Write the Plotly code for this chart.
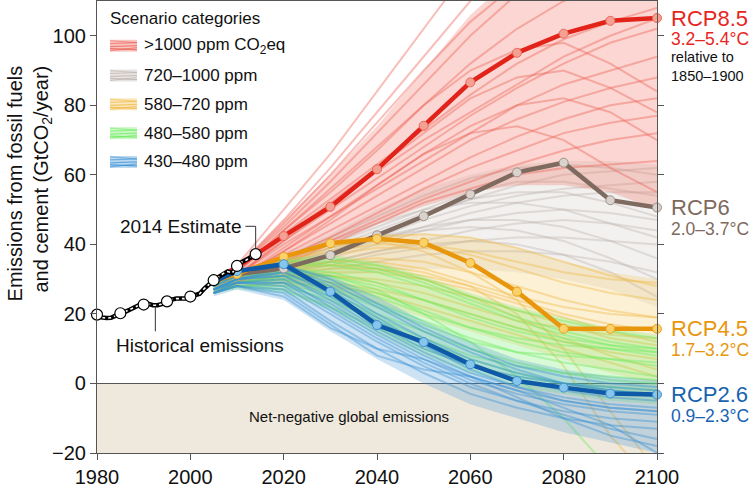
import plotly.graph_objects as go

# ---------------- data ----------------
years_scen = [2005, 2010, 2020, 2030, 2040, 2050, 2060, 2070, 2080, 2090, 2100]

rcp85 = [29.5, 33.5, 42.4, 50.8, 61.6, 74.1, 86.6, 95.1, 100.6, 104.3, 105.1]
rcp6 = [29.5, 31.5, 33.1, 36.9, 42.6, 48.1, 54.4, 60.7, 63.5, 52.7, 50.6]
rcp45 = [29.5, 31.5, 36.4, 40.3, 41.6, 40.5, 34.7, 26.4, 15.7, 15.7, 15.7]
rcp26 = [29.3, 32.3, 34.3, 26.4, 16.8, 11.9, 5.5, 0.7, -1.2, -2.9, -3.2]

hist_years = list(range(1980, 2015))
hist_vals = [19.8, 19.0, 18.8, 18.9, 19.5, 20.2, 20.6, 21.2, 22.0, 22.5,
             22.7, 22.9, 22.5, 22.5, 22.9, 23.6, 24.1, 24.4, 24.3, 24.4,
             25.0, 25.4, 25.8, 27.3, 28.6, 29.7, 30.6, 31.6, 32.2, 31.8,
             33.8, 34.9, 35.5, 36.3, 37.2]
hist_mark_years = [1980, 1985, 1990, 1995, 2000, 2005, 2010, 2014]
hist_mark_vals = [19.8, 20.2, 22.7, 23.6, 25.0, 29.7, 33.8, 37.2]

red_lines = [
    [29, 33, 47, 62, 78, 94, 110, 124, 135, 142, 148],
    [29, 33, 45, 58, 72, 86, 100, 112, 121, 128, 133],
    [28, 32, 44, 55, 67, 80, 92, 102, 110, 116, 120],
    [28, 32, 43, 53, 63, 73, 83, 92, 99, 104, 108],
    [28, 31, 41, 50, 59, 68, 77, 85, 92, 98, 102],
    [27, 31, 40, 48, 56, 64, 72, 80, 86, 90, 94],
    [27, 30, 38, 46, 54, 62, 70, 76, 81, 85, 88],
    [27, 30, 37, 44, 51, 58, 65, 71, 76, 80, 82],
    [26, 29, 36, 42, 49, 56, 62, 67, 72, 75, 77],
    [26, 29, 35, 41, 47, 53, 58, 63, 67, 70, 72],
    [27, 30, 39, 48, 57, 66, 74, 80, 82, 78, 70],
    [28, 31, 42, 52, 62, 72, 82, 88, 90, 85, 78],
    [26, 29, 34, 40, 46, 52, 56, 60, 62, 63, 64],
    [28, 32, 44, 56, 68, 80, 90, 96, 98, 92, 84],
    [27, 30, 38, 47, 57, 66, 72, 74, 70, 62, 55],
    [29, 33, 46, 60, 75, 90, 104, 115, 120, 118, 112],
    [30, 34, 50, 66, 84, 102, 120, 135, 145, 150, 155],
    [27, 31, 41, 51, 61, 70, 78, 86, 94, 100, 105],
]
grey_lines = [
    [28, 31, 34, 38, 43, 48, 53, 57, 60, 61, 62],
    [28, 31, 35, 40, 45, 50, 55, 58, 58, 56, 54],
    [27, 30, 33, 37, 41, 45, 49, 52, 54, 55, 55],
    [27, 30, 33, 36, 40, 44, 47, 49, 50, 49, 47],
    [27, 30, 32, 35, 38, 41, 44, 46, 47, 46, 44],
    [27, 29, 32, 34, 37, 39, 41, 42, 42, 41, 40],
    [28, 31, 36, 41, 46, 50, 52, 52, 50, 46, 42],
    [27, 30, 34, 38, 42, 45, 47, 47, 45, 41, 36],
    [26, 29, 31, 33, 35, 37, 38, 38, 37, 35, 32],
    [27, 30, 34, 39, 44, 49, 53, 55, 55, 52, 48],
    [28, 31, 35, 39, 42, 44, 45, 44, 41, 36, 30],
    [27, 30, 33, 37, 42, 47, 51, 54, 56, 57, 58],
    [26, 29, 32, 35, 38, 40, 41, 40, 37, 32, 25],
    [28, 31, 36, 42, 48, 54, 59, 62, 63, 62, 60],
]
yellow_lines = [
    [28, 31, 35, 39, 42, 43, 42, 39, 35, 31, 28],
    [28, 31, 34, 37, 39, 39, 37, 33, 29, 26, 24],
    [27, 30, 33, 35, 36, 35, 32, 28, 24, 21, 19],
    [27, 30, 32, 33, 33, 31, 28, 24, 20, 17, 15],
    [27, 29, 31, 31, 30, 28, 25, 21, 17, 13, 11],
    [26, 29, 30, 29, 27, 24, 20, 16, 12, 9, 7],
    [27, 30, 33, 34, 33, 30, 25, 19, 13, 8, 4],
    [28, 31, 36, 40, 41, 38, 32, 24, 10, -8, -25],
    [27, 30, 33, 35, 35, 33, 29, 25, 22, 20, 19],
    [26, 28, 29, 28, 26, 22, 18, 14, 10, 6, 2],
    [28, 31, 35, 38, 40, 40, 38, 35, 32, 30, 29],
    [27, 30, 32, 34, 34, 32, 28, 20, 5, -15, -30],
    [27, 29, 31, 32, 32, 30, 27, 23, 19, 15, 12],
    [26, 29, 31, 31, 29, 26, 22, 18, 16, 14, 13],
]
green_lines = [
    [28, 31, 34, 34, 32, 28, 23, 18, 14, 11, 9],
    [27, 30, 33, 32, 29, 24, 19, 15, 12, 10, 8],
    [27, 30, 32, 30, 26, 21, 16, 12, 9, 7, 5],
    [27, 29, 31, 28, 23, 18, 13, 9, 6, 4, 2],
    [26, 29, 30, 26, 20, 15, 10, 6, 3, 1, 0],
    [26, 28, 28, 24, 18, 12, 7, 3, 0, -2, -3],
    [28, 31, 35, 36, 34, 30, 25, 21, 18, 15, 13],
    [27, 30, 33, 31, 27, 20, 12, 2, -10, -25, -35],
    [27, 29, 31, 29, 25, 20, 16, 13, 11, 10, 9],
    [26, 28, 27, 22, 16, 10, 5, 2, 0, -1, -2],
    [27, 30, 34, 35, 33, 29, 24, 19, 15, 12, 10],
    [26, 29, 30, 27, 22, 17, 12, 9, 8, 7, 6],
    [27, 30, 32, 31, 28, 24, 20, 16, 13, 11, 10],
    [26, 28, 29, 25, 19, 13, 8, 5, 3, 2, 1],
]
blue_lines = [
    [28, 31, 33, 28, 20, 13, 7, 3, 0, -2, -3],
    [27, 30, 32, 26, 18, 11, 5, 1, -2, -4, -5],
    [27, 30, 31, 24, 16, 9, 3, -1, -4, -6, -7],
    [27, 29, 30, 22, 14, 7, 1, -3, -6, -8, -9],
    [26, 29, 28, 20, 12, 5, -1, -5, -8, -10, -11],
    [26, 28, 27, 18, 10, 3, -3, -7, -10, -12, -13],
    [28, 31, 34, 30, 23, 16, 10, 5, 2, 0, -1],
    [27, 30, 33, 29, 22, 15, 9, 4, 0, -2, -4],
    [26, 28, 25, 16, 10, 7, 2, -4, -10, -15, -18],
    [27, 29, 29, 21, 13, 6, 0, -5, -9, -13, -16],
    [26, 28, 26, 17, 8, 4, 2, -2, -7, -12, -20],
    [27, 30, 32, 27, 19, 11, 4, -1, -5, -7, -8],
    [26, 29, 29, 23, 15, 8, 2, -2, -5, -7, -8],
    [27, 30, 31, 25, 17, 10, 5, 2, 0, -1, -2],
]

# envelopes of each scenario category
red_lo = [26, 28, 34, 40, 46, 51, 55, 57, 57, 55, 50]
red_hi = [30, 34, 47, 60, 74, 90, 106, 118, 126, 132, 136]
grey_lo = [26, 29, 30, 31, 32, 33, 33, 32, 30, 27, 22]
grey_hi = [29, 32, 37, 43, 50, 56, 60, 63, 64, 64, 63]
yellow_lo = [26, 28, 28, 26, 23, 19, 15, 11, 7, 3, 0]
yellow_hi = [29, 32, 37, 41, 43, 43, 42, 39, 35, 32, 30]
green_lo = [26, 27, 26, 21, 14, 8, 3, -1, -3, -5, -6]
green_hi = [29, 32, 36, 37, 35, 31, 26, 22, 19, 16, 14]
blue_lo = [25, 27, 24, 15, 7, 0, -6, -10, -14, -17, -20]
blue_hi = [29, 32, 34, 31, 25, 18, 12, 7, 4, 2, 1]

categories = [">1000 ppm CO<sub>2</sub>eq", "720–1000 ppm", "580–720 ppm",
              "480–580 ppm", "430–480 ppm"]

x_ticks = [1980, 2000, 2020, 2040, 2060, 2080, 2100]
y_ticks = [-20, 0, 20, 40, 60, 80, 100]

# ---------------- style ----------------
FONT = "Liberation Sans, Arial, Helvetica, sans-serif"
cat_rgb = {
    "red": (238, 95, 82),
    "grey": (185, 175, 168),
    "yellow": (240, 185, 65),
    "green": (110, 235, 95),
    "blue": (60, 145, 212),
}
band_alpha = {"red": 0.26, "grey": 0.18, "yellow": 0.22, "green": 0.26, "blue": 0.26}
line_alpha = {"red": 0.4, "grey": 0.36, "yellow": 0.4, "green": 0.42, "blue": 0.42}

fig = go.Figure()


def rgba(c, a):
    return f"rgba({c[0]},{c[1]},{c[2]},{a})"


groups = [
    ("grey", grey_lines, grey_lo, grey_hi),
    ("red", red_lines, red_lo, red_hi),
    ("yellow", yellow_lines, yellow_lo, yellow_hi),
    ("green", green_lines, green_lo, green_hi),
    ("blue", blue_lines, blue_lo, blue_hi),
]

for name, lines, lo, hi in groups:
    c = cat_rgb[name]
    fig.add_trace(go.Scatter(x=years_scen, y=lo, mode="lines",
                             line=dict(width=0, color=rgba(c, 0)),
                             hoverinfo="skip", showlegend=False))
    fig.add_trace(go.Scatter(x=years_scen, y=hi, mode="lines", fill="tonexty",
                             fillcolor=rgba(c, band_alpha[name]),
                             line=dict(width=0, color=rgba(c, 0)),
                             hoverinfo="skip", showlegend=False))
    for ln in lines:
        fig.add_trace(go.Scatter(x=years_scen, y=ln, mode="lines",
                                 line=dict(width=2, color=rgba(c, line_alpha[name])),
                                 hoverinfo="skip", showlegend=False))

# RCP pathways
rcps = [
    (rcp6, "#7E6A5E", "#D9D2CD", "#9E928A"),
    (rcp85, "#E2231A", "#F4A093", "#E86A5E"),
    (rcp45, "#E8960C", "#FAD267", "#E8A020"),
    (rcp26, "#0E5AA8", "#86C5EC", "#3F8FCF"),
]
for vals, lc, mf, mb in rcps:
    fig.add_trace(go.Scatter(x=years_scen, y=vals, mode="lines+markers",
                             line=dict(width=4.5, color=lc),
                             marker=dict(size=9, color=mf, line=dict(width=1, color=mb)),
                             cliponaxis=False, showlegend=False))

# historical emissions
fig.add_trace(go.Scatter(x=hist_years, y=hist_vals, mode="lines",
                         line=dict(width=4.5, color="black"),
                         showlegend=False))
fig.add_trace(go.Scatter(x=hist_years, y=hist_vals, mode="lines",
                         line=dict(width=1.6, color="white", dash="dot"),
                         showlegend=False))
fig.add_trace(go.Scatter(x=hist_mark_years, y=hist_mark_vals, mode="markers",
                         marker=dict(size=11, color="white", line=dict(width=1.2, color="black")),
                         cliponaxis=False, showlegend=False))

# callout connectors
fig.add_trace(go.Scatter(x=[2011.8, 2014, 2014], y=[45.2, 45.2, 38.8], mode="lines",
                         line=dict(width=1, color="#333"), showlegend=False))
fig.add_trace(go.Scatter(x=[1992.5, 1992.5], y=[22.0, 15.0], mode="lines",
                         line=dict(width=1, color="#333"), showlegend=False))

shapes = []
# net-negative region
shapes.append(dict(type="rect", xref="paper", yref="y", x0=0, x1=1, y0=-20, y1=0,
                   fillcolor="#EFE8DC", line=dict(width=0), layer="below"))

annotations = []
annotations.append(dict(x=2034, y=-9.5, xref="x", yref="y", text="Net-negative global emissions",
                        showarrow=False, font=dict(size=15, color="#111", family=FONT)))
annotations.append(dict(x=2011.3, y=45.2, xref="x", yref="y", text="2014 Estimate",
                        xanchor="right", showarrow=False,
                        font=dict(size=19, color="#111", family=FONT)))
annotations.append(dict(x=2002, y=10.9, xref="x", yref="y", text="Historical emissions",
                        showarrow=False, font=dict(size=19, color="#111", family=FONT)))

# y-axis title
annotations.append(dict(x=-0.121, y=0.597, xref="paper", yref="paper",
                        text="Emissions from fossil fuels<br>and cement (GtCO<sub>2</sub>/year)",
                        textangle=-90, showarrow=False, xanchor="center", yanchor="middle",
                        align="right",
                        font=dict(size=20, color="#111", family=FONT)))

# RCP labels on the right
rcp_labels = [
    ("RCP8.5", "3.2–5.4°C", rcp85[-1], "#E8251E"),
    ("RCP6", "2.0–3.7°C", rcp6[-1], "#7E6A5E"),
    ("RCP4.5", "1.7–3.2°C", rcp45[-1], "#E8960C"),
    ("RCP2.6", "0.9–2.3°C", rcp26[-1], "#1763B0"),
]
for name, rng, yv, col in rcp_labels:
    annotations.append(dict(x=1, y=yv, xref="paper", yref="y", text=name, xanchor="left",
                            xshift=12, showarrow=False,
                            font=dict(size=22, color=col, family=FONT)))
    annotations.append(dict(x=1, y=yv, xref="paper", yref="y", text=rng, xanchor="left",
                            xshift=12, yshift=-21, showarrow=False,
                            font=dict(size=17.5, color=col, family=FONT)))
annotations.append(dict(x=1, y=rcp85[-1], xref="paper", yref="y",
                        text="relative to<br>1850–1900", xanchor="left", align="left",
                        xshift=12, yshift=-48, showarrow=False,
                        font=dict(size=14.5, color="#111", family=FONT)))

# custom legend
PH = 455.0
PW = 560.0


def px2paper(px, py):
    return (px - 97) / PW, 1 - py / PH


hx, hy = px2paper(108, 18)
annotations.append(dict(x=hx, y=hy, xref="paper", yref="paper", text="Scenario categories",
                        xanchor="left", yanchor="middle", showarrow=False,
                        font=dict(size=17, color="#111", family=FONT)))
row_y = [45, 75, 104, 133, 162]
cat_order = ["red", "grey", "yellow", "green", "blue"]
for lab, ry, cname in zip(categories, row_y, cat_order):
    c = cat_rgb[cname]
    x0p, _ = px2paper(110, ry)
    x1p, _ = px2paper(137, ry)
    _, y0 = px2paper(0, ry + 6)
    _, y1 = px2paper(0, ry - 6)
    shapes.append(dict(type="rect", xref="paper", yref="paper", x0=x0p, x1=x1p, y0=y0, y1=y1,
                       fillcolor=rgba(c, 0.35), line=dict(width=0)))
    for a, b, al in [(-5, -3, 0.5), (-2, -3, 0.6), (1, 0, 0.7), (3, 4, 0.8), (5, 2, 0.6)]:
        _, ya = px2paper(0, ry + a)
        _, yb = px2paper(0, ry + b)
        shapes.append(dict(type="line", xref="paper", yref="paper", x0=x0p, x1=x1p, y0=ya, y1=yb,
                           line=dict(width=1.2, color=rgba(c, al))))
    tx, ty = px2paper(142, ry)
    annotations.append(dict(x=tx, y=ty, xref="paper", yref="paper", text=lab,
                            xanchor="left", yanchor="middle", showarrow=False,
                            font=dict(size=17, color="#111", family=FONT)))

fig.update_layout(
    width=754, height=488,
    margin=dict(l=97, r=97, t=0, b=33),
    paper_bgcolor="white", plot_bgcolor="white",
    font=dict(family=FONT, size=20, color="#111"),
    shapes=shapes, annotations=annotations,
    showlegend=False,
    xaxis=dict(range=[1980, 2100], tickvals=x_ticks, ticks="outside", ticklen=6,
               tickcolor="#555", showline=True, linecolor="#555", linewidth=1.2,
               mirror=True, showgrid=False, zeroline=False,
               tickfont=dict(size=20, family=FONT, color="#111")),
    yaxis=dict(range=[-20, 110], tickvals=y_ticks, ticks="outside", ticklen=6,
               tickcolor="#555", showline=True, linecolor="#555", linewidth=1.2,
               mirror="ticks", showgrid=False, zeroline=True, zerolinecolor="#555",
               zerolinewidth=1.2,
               tickfont=dict(size=20, family=FONT, color="#111")),
)

fig.write_html("out.html", config={"displayModeBar": False},
               post_script="document.body.style.margin='0';document.body.style.overflow='hidden';")
